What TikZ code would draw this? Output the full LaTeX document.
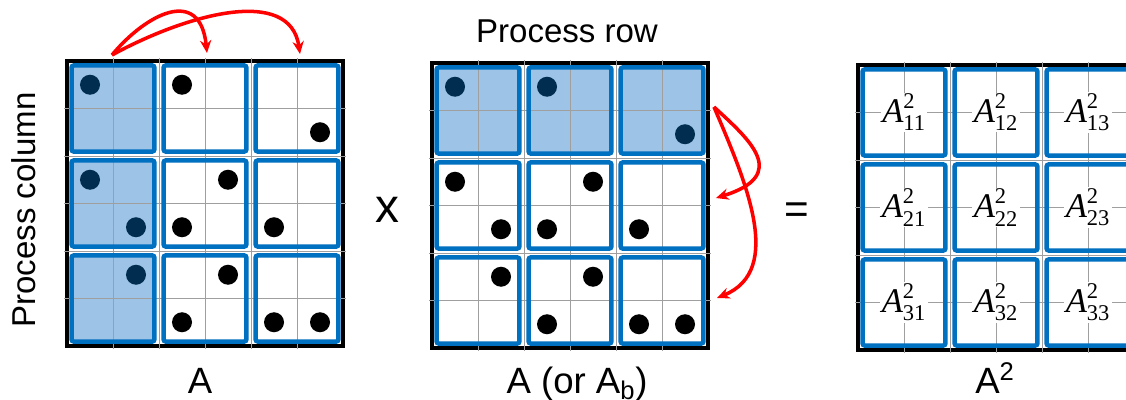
\documentclass[tikz,border=0pt]{standalone}
\usepackage{fontspec}
\setmainfont{Liberation Sans}
\newfontfamily\entryfont{Liberation Serif}
\newcommand{\idxsize}{\fontsize{16}{18}\selectfont}
\usetikzlibrary{calc, arrows.meta}
\definecolor{blockblue}{RGB}{0,112,192}
\definecolor{tintblue}{RGB}{157,195,230}
\definecolor{navydot}{RGB}{0,45,80}

\begin{document}
\begin{tikzpicture}[x=0.025cm, y=-0.025cm]
	\tikzstyle{frame}=[rectangle, draw=black, fill=white, line width=2.6pt,
	minimum width=6.9cm, minimum height=7.125cm, inner sep=0pt]
	\tikzstyle{gridline}=[gray!75, line width=0.7pt]
	\tikzstyle{block}=[rectangle, draw=blockblue, line width=3.2pt, rounded corners=1.5pt,
	minimum width=2.07cm, minimum height=2.15cm, inner sep=0pt]
	\tikzstyle{tinted}=[block, draw=none, fill=tintblue]
	\tikzstyle{dot}=[circle, fill=black, minimum size=0.5cm, inner sep=0pt]
	\tikzstyle{darkdot}=[dot, fill=navydot]
	\tikzstyle{entry}=[fill=white, inner sep=1pt, font=\entryfont\fontsize{24.6}{28}\selectfont]
	\tikzstyle{hop}=[red, line width=2.5pt, -{Stealth[length=9pt, width=8pt]}]
	\tikzstyle{caption}=[font=\fontsize{26}{30}\selectfont, anchor=base]
	\tikzstyle{side}=[font=\fontsize{23.5}{28}\selectfont]

	\useasboundingbox (0,0) rectangle (1126,400);

	\foreach \m/\ox/\oy in {L/67/61, M/432/63, R/858/65} {
		\node[frame] (\m) at ({\ox+138}, {\oy+142.5}) {};
	}

	\foreach \r in {1,2,3} \node[tinted] (Lt\r) at (113, {61+(\r-0.5)*95}) {};
	\foreach \c in {1,2,3} \node[tinted] (Mt\c) at ({432+(\c-0.5)*92}, 110.5) {};

	\foreach \m/\ox/\oy in {L/67/61, M/432/63, R/858/65} {
		\foreach \i in {1,...,5} {
			\draw[gridline] ({\ox+\i*46}, {\oy-3}) -- ({\ox+\i*46}, {\oy+288});
			\draw[gridline] ({\ox-3}, {\oy+\i*47.5}) -- ({\ox+279}, {\oy+\i*47.5});
		}
		\foreach \r in {1,2,3} \foreach \c in {1,2,3}
			\node[block] (\m\r\c) at ({\ox+(\c-0.5)*92}, {\oy+(\r-0.5)*95}) {};
	}

	\foreach \r/\c in {1/1, 3/1, 4/2, 5/2}
		\node[darkdot] (Ld\r\c) at ({67+(\c-0.5)*46}, {61+(\r-0.5)*47.5}) {};
	\foreach \r/\c in {1/3, 2/6, 3/4, 4/3, 4/5, 5/4, 6/3, 6/5, 6/6}
		\node[dot] (Ld\r\c) at ({67+(\c-0.5)*46}, {61+(\r-0.5)*47.5}) {};
	\foreach \r/\c in {1/1, 1/3, 2/6}
		\node[darkdot] (Md\r\c) at ({432+(\c-0.5)*46}, {63+(\r-0.5)*47.5}) {};
	\foreach \r/\c in {3/1, 4/2, 3/4, 4/3, 4/5, 5/2, 5/4, 6/3, 6/5, 6/6}
		\node[dot] (Md\r\c) at ({432+(\c-0.5)*46}, {63+(\r-0.5)*47.5}) {};

	\foreach \r in {1,2,3} \foreach \c in {1,2,3}
		\node[entry] (A\r\c) at (R\r\c)
		{$\mbox{\itshape A}^{\mbox{\idxsize 2}}_{\mbox{\idxsize\r\c}}$};

	\node[caption] (capL) at (200,393) {A};
	\node[caption] (capM) at (577,393) {A (or A\textsubscript{b})};
	\node[caption] (capR) at (995,393) {A\textsuperscript{2}};
	\node[side] (rowlbl) at (567,31) {Process row};
	\node[side, rotate=90] (collbl) at (24,210) {Process column};
	\node[font=\fontsize{34}{40}\selectfont] (times) at (387,210) {x};
	\node[font=\fontsize{30}{36}\selectfont] (equals) at (797,213) {=};

	\coordinate (srcL) at (112,55);
	\coordinate (dstL1) at (207,53);
	\coordinate (dstL2) at (300,54);
	\coordinate (srcM) at (714,107);
	\coordinate (dstM1) at (716,198);
	\coordinate (dstM2) at (717,298);

	\draw[hop] (srcL) .. controls (145,15) and (200,-15) .. (dstL1);
	\draw[hop] (srcL) .. controls (185,15) and (290,-15) .. (dstL2);
	\draw[hop] (srcM) .. controls (750,140) and (790,175) .. (dstM1);
	\draw[hop] (srcM) .. controls (745,180) and (785,270) .. (dstM2);
\end{tikzpicture}
\end{document}
